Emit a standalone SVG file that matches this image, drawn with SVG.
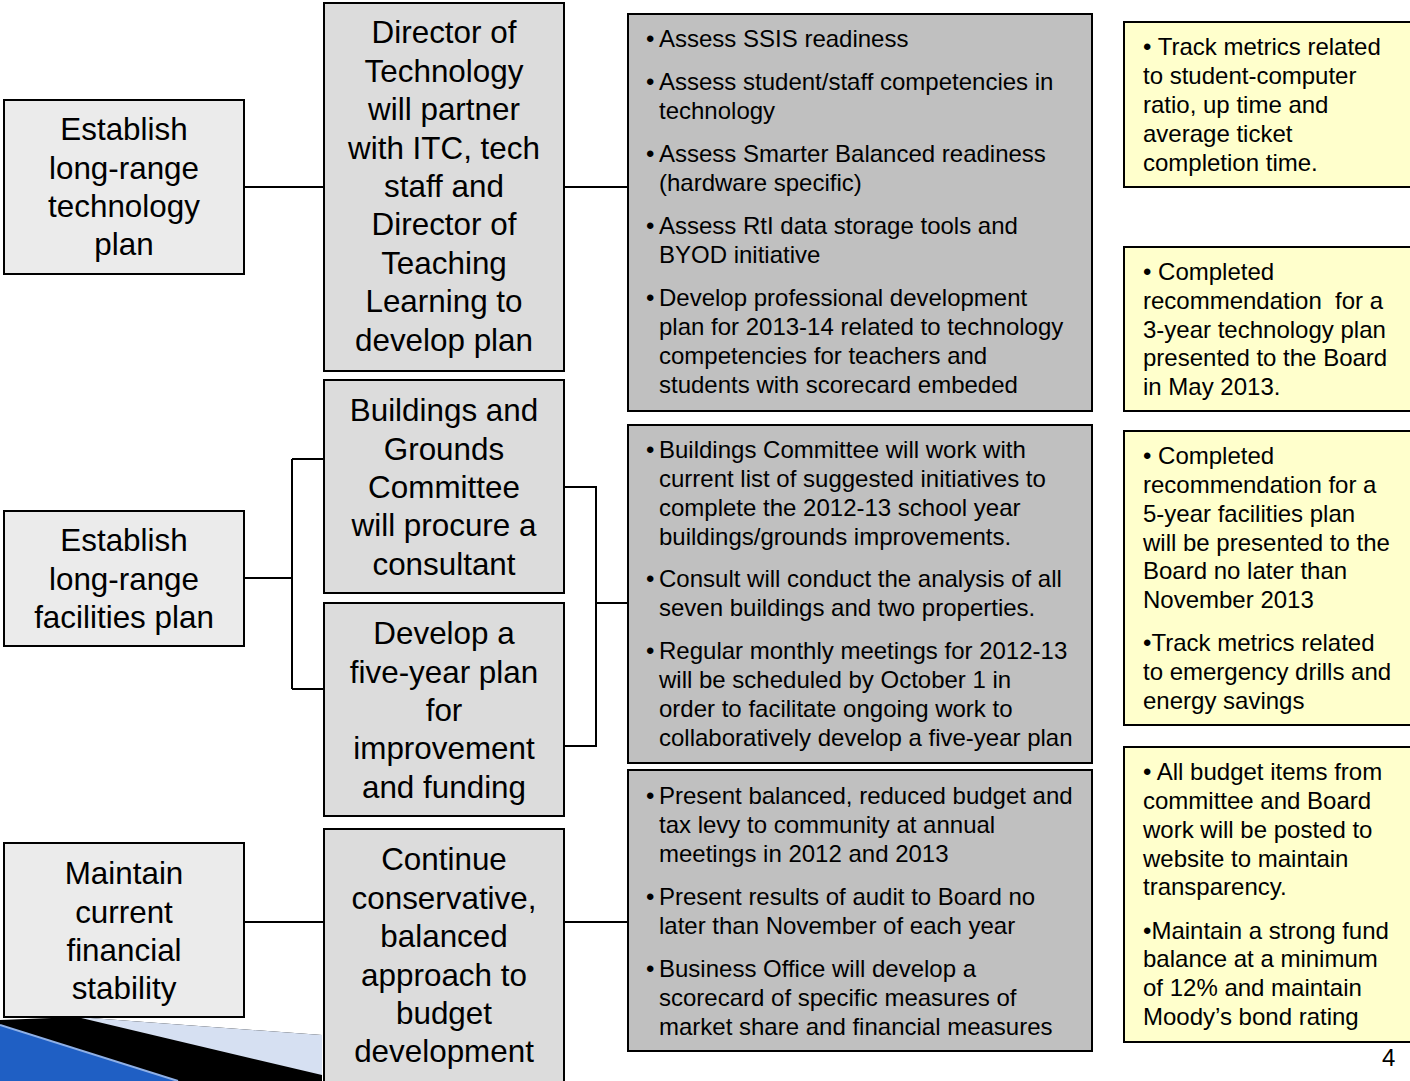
<svg xmlns="http://www.w3.org/2000/svg" width="1410" height="1081" viewBox="0 0 1410 1081">
<style>
.lb{fill:#ebebeb;stroke:#000;stroke-width:2}
.mb{fill:#dcdcdc;stroke:#000;stroke-width:2}
.gb{fill:#c0c0c0;stroke:#000;stroke-width:2}
.yb{fill:#ffffcc;stroke:#000;stroke-width:2}
.big{font-family:"Liberation Sans",Arial,sans-serif;font-size:31.4px;fill:#000;text-anchor:middle}
.sm{font-family:"Liberation Sans",Arial,sans-serif;font-size:24px;fill:#000}
.conn{fill:none;stroke:#000;stroke-width:2}
</style>
<rect width="1410" height="1081" fill="#fff"/>
<g id="decoration">
<polygon points="0,1020 77,1017 322,1035 322,1081 0,1081" fill="#000"/>
<polygon points="77,1017 322,1035 322,1075" fill="#d6e0f2"/>
<polygon points="0,1025 178,1081 0,1081" fill="#1f5fc4"/>
<line x1="0" y1="1025" x2="178" y2="1081" stroke="#8fb0e6" stroke-width="2"/>
</g>
<g id="connectors">
<path class="conn" d="M244,187 H324 M564,187 H628"/>
<path class="conn" d="M244,578 H292 M292,459 V689 M292,459 H324 M292,689 H324"/>
<path class="conn" d="M564,487 H596 V746 H564 M596,603 H628"/>
<path class="conn" d="M244,922 H324 M564,922 H628"/>
</g>
<g id="goal1">
<rect class="lb" x="4" y="100" width="240" height="174"/>
<text class="big" x="124" y="140">Establish</text>
<text class="big" x="124" y="179">long-range</text>
<text class="big" x="124" y="217">technology</text>
<text class="big" x="124" y="255">plan</text>
</g>
<g id="goal2">
<rect class="lb" x="4" y="511" width="240" height="135"/>
<text class="big" x="124" y="551">Establish</text>
<text class="big" x="124" y="590">long-range</text>
<text class="big" x="124" y="628">facilities plan</text>
</g>
<g id="goal3">
<rect class="lb" x="4" y="843" width="240" height="174"/>
<text class="big" x="124" y="884">Maintain</text>
<text class="big" x="124" y="923">current</text>
<text class="big" x="124" y="961">financial</text>
<text class="big" x="124" y="999">stability</text>
</g>
<g id="strategy1">
<rect class="mb" x="324" y="3" width="240" height="368"/>
<text class="big" x="444" y="43">Director of</text>
<text class="big" x="444" y="82">Technology</text>
<text class="big" x="444" y="120">will partner</text>
<text class="big" x="444" y="159">with ITC, tech</text>
<text class="big" x="444" y="197">staff and</text>
<text class="big" x="444" y="235">Director of</text>
<text class="big" x="444" y="274">Teaching</text>
<text class="big" x="444" y="312">Learning to</text>
<text class="big" x="444" y="351">develop plan</text>
</g>
<g id="strategy2">
<rect class="mb" x="324" y="380" width="240" height="213"/>
<text class="big" x="444" y="421">Buildings and</text>
<text class="big" x="444" y="460">Grounds</text>
<text class="big" x="444" y="498">Committee</text>
<text class="big" x="444" y="536">will procure a</text>
<text class="big" x="444" y="575">consultant</text>
</g>
<g id="strategy3">
<rect class="mb" x="324" y="603" width="240" height="213"/>
<text class="big" x="444" y="644">Develop a</text>
<text class="big" x="444" y="683">five-year plan</text>
<text class="big" x="444" y="721">for</text>
<text class="big" x="444" y="759">improvement</text>
<text class="big" x="444" y="798">and funding</text>
</g>
<g id="strategy4">
<rect class="mb" x="324" y="829" width="240" height="260"/>
<text class="big" x="444" y="870">Continue</text>
<text class="big" x="444" y="909">conservative,</text>
<text class="big" x="444" y="947">balanced</text>
<text class="big" x="444" y="986">approach to</text>
<text class="big" x="444" y="1024">budget</text>
<text class="big" x="444" y="1062">development</text>
</g>
<g id="actions1">
<rect class="gb" x="628" y="14" width="464" height="397"/>
<text class="sm" x="646" y="47">•</text><text class="sm" x="659" y="47">Assess SSIS readiness</text>
<text class="sm" x="646" y="90">•</text><text class="sm" x="659" y="90">Assess student/staff competencies in</text>
<text class="sm" x="659" y="119">technology</text>
<text class="sm" x="646" y="162">•</text><text class="sm" x="659" y="162">Assess Smarter Balanced readiness</text>
<text class="sm" x="659" y="191">(hardware specific)</text>
<text class="sm" x="646" y="234">•</text><text class="sm" x="659" y="234">Assess RtI data storage tools and</text>
<text class="sm" x="659" y="263">BYOD initiative</text>
<text class="sm" x="646" y="306">•</text><text class="sm" x="659" y="306">Develop professional development</text>
<text class="sm" x="659" y="335">plan for 2013-14 related to technology</text>
<text class="sm" x="659" y="364">competencies for teachers and</text>
<text class="sm" x="659" y="393">students with scorecard embeded</text>
</g>
<g id="actions2">
<rect class="gb" x="628" y="425" width="464" height="338"/>
<text class="sm" x="646" y="458">•</text><text class="sm" x="659" y="458">Buildings Committee will work with</text>
<text class="sm" x="659" y="487">current list of suggested initiatives to</text>
<text class="sm" x="659" y="516">complete the 2012-13 school year</text>
<text class="sm" x="659" y="545">buildings/grounds improvements.</text>
<text class="sm" x="646" y="587">•</text><text class="sm" x="659" y="587">Consult will conduct the analysis of all</text>
<text class="sm" x="659" y="616">seven buildings and two properties.</text>
<text class="sm" x="646" y="659">•</text><text class="sm" x="659" y="659">Regular monthly meetings for 2012-13</text>
<text class="sm" x="659" y="688">will be scheduled by October 1 in</text>
<text class="sm" x="659" y="717">order to facilitate ongoing work to</text>
<text class="sm" x="659" y="746">collaboratively develop a five-year plan</text>
</g>
<g id="actions3">
<rect class="gb" x="628" y="770" width="464" height="281"/>
<text class="sm" x="646" y="804">•</text><text class="sm" x="659" y="804">Present balanced, reduced budget and</text>
<text class="sm" x="659" y="833">tax levy to community at annual</text>
<text class="sm" x="659" y="862">meetings in 2012 and 2013</text>
<text class="sm" x="646" y="905">•</text><text class="sm" x="659" y="905">Present results of audit to Board no</text>
<text class="sm" x="659" y="934">later than November of each year</text>
<text class="sm" x="646" y="977">•</text><text class="sm" x="659" y="977">Business Office will develop a</text>
<text class="sm" x="659" y="1006">scorecard of specific measures of</text>
<text class="sm" x="659" y="1035">market share and financial measures</text>
</g>
<g id="metrics1">
<rect class="yb" x="1124" y="22" width="292" height="165"/>
<text class="sm" x="1143" y="55">• Track metrics related</text>
<text class="sm" x="1143" y="84">to student-computer</text>
<text class="sm" x="1143" y="113">ratio, up time and</text>
<text class="sm" x="1143" y="142">average ticket</text>
<text class="sm" x="1143" y="171">completion time.</text>
</g>
<g id="metrics2">
<rect class="yb" x="1124" y="247" width="292" height="164"/>
<text class="sm" x="1143" y="280">• Completed</text>
<text class="sm" x="1143" y="309" xml:space="preserve">recommendation  for a</text>
<text class="sm" x="1143" y="338">3-year technology plan</text>
<text class="sm" x="1143" y="366">presented to the Board</text>
<text class="sm" x="1143" y="395">in May 2013.</text>
</g>
<g id="metrics3">
<rect class="yb" x="1124" y="431" width="292" height="294"/>
<text class="sm" x="1143" y="464">• Completed</text>
<text class="sm" x="1143" y="493">recommendation for a</text>
<text class="sm" x="1143" y="522">5-year facilities plan</text>
<text class="sm" x="1143" y="551">will be presented to the</text>
<text class="sm" x="1143" y="579">Board no later than</text>
<text class="sm" x="1143" y="608">November 2013</text>
<text class="sm" x="1143" y="651">•Track metrics related</text>
<text class="sm" x="1143" y="680">to emergency drills and</text>
<text class="sm" x="1143" y="709">energy savings</text>
</g>
<g id="metrics4">
<rect class="yb" x="1124" y="747" width="292" height="295"/>
<text class="sm" x="1143" y="780">• All budget items from</text>
<text class="sm" x="1143" y="809">committee and Board</text>
<text class="sm" x="1143" y="838">work will be posted to</text>
<text class="sm" x="1143" y="867">website to maintain</text>
<text class="sm" x="1143" y="895">transparency.</text>
<text class="sm" x="1143" y="939">•Maintain a strong fund</text>
<text class="sm" x="1143" y="967">balance at a minimum</text>
<text class="sm" x="1143" y="996">of 12% and maintain</text>
<text class="sm" x="1143" y="1025">Moody’s bond rating</text>
</g>
<text class="sm" x="1382" y="1066">4</text>
</svg>
